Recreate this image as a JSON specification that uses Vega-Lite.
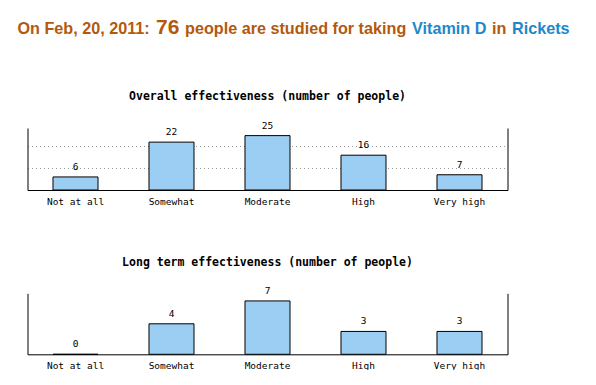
{
  "$schema": "https://vega.github.io/schema/vega-lite/v6.json",
  "padding": {"left": 17.5, "top": 14, "right": 0, "bottom": 0},
  "background": "white",
  "config": {"view": {"stroke": null}},
  "spacing": 37,
  "vconcat": [
    {
      "spacing": 5,
      "hconcat": [
        {"width": 1, "height": 40, "data": {"values": [{"t": "On Feb, 20, 2011:"}]},
         "mark": {"type": "text", "align": "left", "baseline": "alphabetic", "dx": -10.5, "font": "Liberation Sans", "fontWeight": "bold", "fontSize": 16.2, "color": "#b3590e"},
         "encoding": {"text": {"field": "t"}}},
        {"width": 1, "height": 40, "data": {"values": [{"t": "76"}]},
         "mark": {"type": "text", "align": "left", "baseline": "alphabetic", "font": "Liberation Sans", "fontWeight": "bold", "fontSize": 21, "color": "#b3590e"},
         "encoding": {"text": {"field": "t"}}},
        {"width": 1, "height": 40, "data": {"values": [{"t": "people are studied for taking"}]},
         "mark": {"type": "text", "align": "left", "baseline": "alphabetic", "font": "Liberation Sans", "fontWeight": "bold", "fontSize": 16.2, "color": "#b3590e"},
         "encoding": {"text": {"field": "t"}}},
        {"width": 1, "height": 40, "data": {"values": [{"t": "Vitamin D"}]},
         "mark": {"type": "text", "align": "left", "baseline": "alphabetic", "font": "Liberation Sans", "fontWeight": "bold", "fontSize": 16.2, "color": "#1e88c8"},
         "encoding": {"text": {"field": "t"}}},
        {"width": 1, "height": 40, "data": {"values": [{"t": "in"}]},
         "mark": {"type": "text", "align": "left", "baseline": "alphabetic", "font": "Liberation Sans", "fontWeight": "bold", "fontSize": 16.2, "color": "#b3590e"},
         "encoding": {"text": {"field": "t"}}},
        {"width": 1, "height": 40, "data": {"values": [{"t": "Rickets"}]},
         "mark": {"type": "text", "align": "left", "baseline": "alphabetic", "font": "Liberation Sans", "fontWeight": "bold", "fontSize": 16.2, "color": "#1e88c8"},
         "encoding": {"text": {"field": "t"}}}
      ]
    },
    {
      "spacing": 50.3,
      "vconcat": [
        {
          "width": 480, "height": 62,
          "title": {"text": "Overall effectiveness (number of people)", "font": "DejaVu Sans Mono", "fontSize": 11.5, "fontWeight": "bold", "color": "#000", "frame": "group", "anchor": "middle", "offset": 17.7},
          "data": {"values": [
            {"level": "Not at all", "n": 6},
            {"level": "Somewhat", "n": 22},
            {"level": "Moderate", "n": 25},
            {"level": "High", "n": 16},
            {"level": "Very high", "n": 7}
          ]},
          "encoding": {
            "x": {"field": "level", "type": "nominal", "sort": null,
                  "scale": {"paddingInner": 0.531, "paddingOuter": 0.2655},
                  "axis": {"title": null, "ticks": false, "labelAngle": 0, "labelFont": "DejaVu Sans Mono", "labelFontSize": 9.5, "labelColor": "#000", "labelPadding": 6, "domainColor": "#000", "domainWidth": 1}}
          },
          "layer": [
            {"mark": {"type": "bar", "fill": "#9ccdf2", "stroke": "#000", "strokeWidth": 1},
             "encoding": {"y": {"field": "n", "type": "quantitative", "scale": {"domain": [0, 28.5], "nice": false},
                                "axis": {"title": null, "labels": false, "ticks": false, "domainColor": "#000", "grid": true, "values": [10, 20], "gridColor": "#999", "gridDash": [1, 3], "gridWidth": 1, "minExtent": 10, "maxExtent": 10}}}},
            {"mark": {"type": "text", "baseline": "bottom", "dy": -5, "font": "DejaVu Sans Mono", "fontSize": 9.5, "color": "#000"},
             "encoding": {"text": {"field": "n"},
                          "y": {"field": "n", "type": "quantitative", "scale": {"domain": [0, 28.5], "nice": false},
                                "axis": {"orient": "right", "title": null, "labels": false, "ticks": false, "grid": false, "domainColor": "#000", "minExtent": 0, "maxExtent": 0}}}}
          ],
          "resolve": {"axis": {"y": "independent"}}
        },
        {
          "width": 480, "height": 61,
          "title": {"text": "Long term effectiveness (number of people)", "font": "DejaVu Sans Mono", "fontSize": 11.5, "fontWeight": "bold", "color": "#000", "frame": "group", "anchor": "middle", "offset": 17.7},
          "data": {"values": [
            {"level": "Not at all", "n": 0},
            {"level": "Somewhat", "n": 4},
            {"level": "Moderate", "n": 7},
            {"level": "High", "n": 3},
            {"level": "Very high", "n": 3}
          ]},
          "encoding": {
            "x": {"field": "level", "type": "nominal", "sort": null,
                  "scale": {"paddingInner": 0.531, "paddingOuter": 0.2655},
                  "axis": {"title": null, "ticks": false, "labelAngle": 0, "labelFont": "DejaVu Sans Mono", "labelFontSize": 9.5, "labelColor": "#000", "labelPadding": 6, "domainColor": "#000", "domainWidth": 1}}
          },
          "layer": [
            {"mark": {"type": "bar", "fill": "#9ccdf2", "stroke": "#000", "strokeWidth": 1},
             "encoding": {"y": {"field": "n", "type": "quantitative", "scale": {"domain": [0, 8], "nice": false},
                                "axis": {"title": null, "labels": false, "ticks": false, "domainColor": "#000", "grid": false, "minExtent": 10, "maxExtent": 10}}}},
            {"mark": {"type": "text", "baseline": "bottom", "dy": -5, "font": "DejaVu Sans Mono", "fontSize": 9.5, "color": "#000"},
             "encoding": {"text": {"field": "n"},
                          "y": {"field": "n", "type": "quantitative", "scale": {"domain": [0, 8], "nice": false},
                                "axis": {"orient": "right", "title": null, "labels": false, "ticks": false, "grid": false, "domainColor": "#000", "minExtent": 0, "maxExtent": 0}}}}
          ],
          "resolve": {"axis": {"y": "independent"}}
        }
      ]
    }
  ]
}
